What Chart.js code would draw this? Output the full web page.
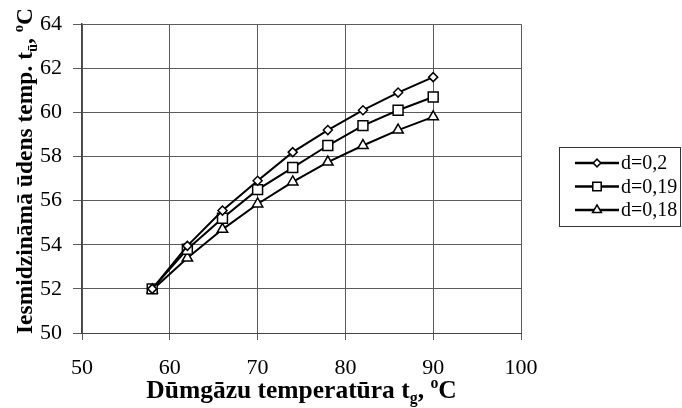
<!DOCTYPE html>
<html>
<head>
<meta charset="utf-8">
<script src="https://cdn.jsdelivr.net/npm/chart.js@4.4.0/dist/chart.umd.min.js"></script>
<style>
	html, body { margin: 0; padding: 0; background: #fff; }
</style>
</head>
<body>
<canvas id="chart" width="682" height="408"></canvas>
<script>
const tempGas = [58, 62, 66, 70, 74, 78, 82, 86, 90];
const d020 = [52.0, 53.95, 55.55, 56.9, 58.2, 59.2, 60.1, 60.9, 61.6];
const d019 = [52.0, 53.8, 55.2, 56.5, 57.5, 58.5, 59.4, 60.1, 60.7];
const d018 = [51.95, 53.4, 54.7, 55.85, 56.85, 57.75, 58.5, 59.2, 59.8];
const seriesLabels = ['d=0,2', 'd=0,19', 'd=0,18'];
const xTicks = [50, 60, 70, 80, 90, 100];
const yTicks = [50, 52, 54, 56, 58, 60, 62, 64];

const FONT = '"Liberation Serif", "Times New Roman", serif';
const GRID = '#5a5a5a';

const xTitle = [
	{ t: 'Dūmgāzu temperatūra t' },
	{ t: 'g', sub: true },
	{ t: ', ' },
	{ t: 'o', sup: true },
	{ t: 'C' },
];
const yTitle = [
	{ t: 'Iesmidzināmā ūdens temp. t' },
	{ t: 'ū', sub: true },
	{ t: ', ' },
	{ t: 'o', sup: true },
	{ t: 'C' },
];

function toPoints(values) {
	return values.map((v, i) => ({ x: tempGas[i], y: v }));
}

function series(label, values, style, radius) {
	return {
		label: label,
		data: toPoints(values),
		borderColor: '#000',
		borderWidth: 2,
		pointStyle: style,
		pointRadius: radius,
		pointBackgroundColor: '#fff',
		pointBorderColor: '#000',
		pointBorderWidth: 1.5,
		tension: 0,
	};
}

// bold text with sub/superscript pieces, centred on cx
function drawRich(ctx, runs, size, cx, baseY) {
	const parts = runs.map(r => {
		const s = r.sub || r.sup ? size * 0.62 : size;
		ctx.font = `bold ${s}px ${FONT}`;
		return { ...r, s: s, w: ctx.measureText(r.t).width };
	});
	const total = parts.reduce((a, p) => a + p.w, 0);
	let x = cx - total / 2;
	ctx.textAlign = 'left';
	ctx.textBaseline = 'alphabetic';
	ctx.fillStyle = '#000';
	parts.forEach(p => {
		ctx.font = `bold ${p.s}px ${FONT}`;
		const dy = p.sub ? size * 0.2 : p.sup ? -size * 0.4 : 0;
		ctx.fillText(p.t, x, baseY + dy);
		x += p.w;
	});
}

const extras = {
	id: 'extras',
	afterDraw(chart) {
		const ctx = chart.ctx;
		const area = chart.chartArea;
		ctx.save();
		drawRich(ctx, xTitle, 25.5, (area.left + area.right) / 2, 398);
		ctx.translate(32, 171);
		ctx.rotate(-Math.PI / 2);
		drawRich(ctx, yTitle, 23.5, 0, 0);
		ctx.restore();

		// legend box
		const box = { left: 559, top: 147, width: 122, height: 79 };
		ctx.save();
		ctx.strokeStyle = '#333';
		ctx.lineWidth = 1;
		ctx.strokeRect(box.left + 0.5, box.top + 0.5, box.width - 1, box.height);
		chart.data.datasets.forEach((ds, i) => {
			const y = box.top + 16 + i * 23.5;
			ctx.strokeStyle = '#000';
			ctx.lineWidth = 2.5;
			ctx.beginPath();
			ctx.moveTo(575, y);
			ctx.lineTo(619, y);
			ctx.stroke();
			ctx.fillStyle = '#fff';
			ctx.lineWidth = 1.5;
			Chart.helpers.drawPoint(ctx, {
				pointStyle: ds.pointStyle,
				radius: ds.pointRadius * 0.85,
				rotation: 0,
				borderWidth: 1.5,
			}, 597, y);
			ctx.fillStyle = '#000';
			ctx.font = `20px ${FONT}`;
			ctx.textAlign = 'left';
			ctx.textBaseline = 'middle';
			ctx.fillText(ds.label, 621, y + 1);
		});
		ctx.restore();
	},
};

new Chart(document.getElementById('chart'), {
	type: 'line',
	data: {
		datasets: [
			series(seriesLabels[0], d020, 'rectRot', 4.5),
			series(seriesLabels[1], d019, 'rect', 7),
			series(seriesLabels[2], d018, 'triangle', 6),
		],
	},
	options: {
		responsive: false,
		animation: false,
		layout: { padding: { left: 0, top: 21, right: 161, bottom: 0 } },
		plugins: {
			legend: { display: false },
			tooltip: { enabled: false },
		},
		scales: {
			x: {
				type: 'linear',
				min: 50,
				max: 100,
				afterBuildTicks: s => { s.ticks = xTicks.map(v => ({ value: v })); },
				afterFit: s => { s.height = 75; },
				grid: { color: GRID, lineWidth: 1, tickLength: 7 },
				border: { color: '#444', width: 1 },
				ticks: { color: '#000', padding: 15, font: { family: FONT, size: 22 } },
			},
			y: {
				min: 50,
				max: 64,
				afterBuildTicks: s => { s.ticks = yTicks.map(v => ({ value: v })); },
				afterFit: s => { s.width = 82; },
				grid: { color: GRID, lineWidth: 1, tickLength: 9 },
				border: { color: '#444', width: 1.5 },
				ticks: { color: '#000', padding: 11, font: { family: FONT, size: 22 } },
			},
		},
	},
	plugins: [extras],
});
</script>
</body>
</html>
